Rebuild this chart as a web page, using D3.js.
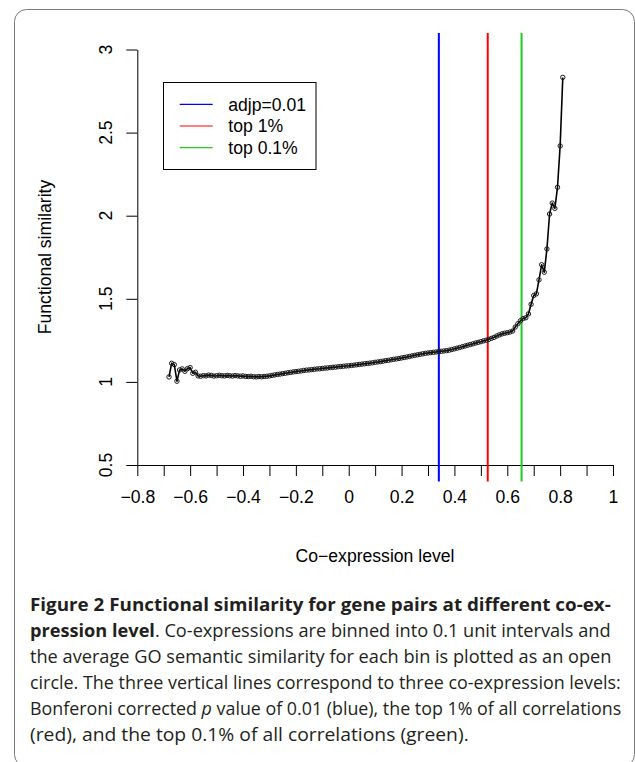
<!DOCTYPE html>
<html>
<head>
<meta charset="utf-8">
<script src="https://cdn.jsdelivr.net/npm/d3@7"></script>
<style>
  body { margin: 0; background: #fff; }
  svg { display: block; }
</style>
</head>
<body>
<svg id="chart" width="635" height="762"></svg>
<script>
// co-expression level of each bin
var coExpr = [
  -0.68, -0.67, -0.66, -0.65, -0.64, -0.63, -0.62, -0.61, -0.60, -0.59,
  -0.58, -0.57, -0.56, -0.55, -0.54, -0.53, -0.52, -0.51, -0.50, -0.49,
  -0.48, -0.47, -0.46, -0.45, -0.44, -0.43, -0.42, -0.41, -0.40, -0.39,
  -0.38, -0.37, -0.36, -0.35, -0.34, -0.33, -0.32, -0.31, -0.30, -0.29,
  -0.28, -0.27, -0.26, -0.25, -0.24, -0.23, -0.22, -0.21, -0.20, -0.19,
  -0.18, -0.17, -0.16, -0.15, -0.14, -0.13, -0.12, -0.11, -0.10, -0.09,
  -0.08, -0.07, -0.06, -0.05, -0.04, -0.03, -0.02, -0.01, 0.00, 0.01,
  0.02, 0.03, 0.04, 0.05, 0.06, 0.07, 0.08, 0.09, 0.10, 0.11,
  0.12, 0.13, 0.14, 0.15, 0.16, 0.17, 0.18, 0.19, 0.20, 0.21,
  0.22, 0.23, 0.24, 0.25, 0.26, 0.27, 0.28, 0.29, 0.30, 0.31,
  0.32, 0.33, 0.34, 0.35, 0.36, 0.37, 0.38, 0.39, 0.40, 0.41,
  0.42, 0.43, 0.44, 0.45, 0.46, 0.47, 0.48, 0.49, 0.50, 0.51,
  0.52, 0.53, 0.54, 0.55, 0.56, 0.57, 0.58, 0.59, 0.60, 0.61,
  0.62, 0.63, 0.64, 0.65, 0.66, 0.67, 0.68, 0.69, 0.70, 0.71,
  0.72, 0.73, 0.74, 0.75, 0.76, 0.77, 0.78, 0.79, 0.80, 0.81
];

// average GO semantic similarity of each bin
var similarity = [
  1.030, 1.112, 1.104, 1.004, 1.072, 1.078, 1.064, 1.080, 1.086, 1.052,
  1.058, 1.036, 1.034, 1.038, 1.036, 1.041, 1.039, 1.035, 1.037, 1.040,
  1.037, 1.036, 1.039, 1.037, 1.035, 1.038, 1.036, 1.034, 1.036, 1.033,
  1.032, 1.034, 1.031, 1.030, 1.032, 1.031, 1.033, 1.034, 1.036, 1.039,
  1.042, 1.045, 1.047, 1.050, 1.052, 1.055, 1.057, 1.060, 1.062, 1.064,
  1.066, 1.069, 1.071, 1.072, 1.074, 1.076, 1.078, 1.079, 1.081, 1.083,
  1.084, 1.086, 1.088, 1.089, 1.091, 1.093, 1.094, 1.096, 1.097, 1.099,
  1.101, 1.103, 1.105, 1.107, 1.109, 1.111, 1.113, 1.115, 1.118, 1.120,
  1.122, 1.125, 1.128, 1.130, 1.133, 1.136, 1.138, 1.141, 1.144, 1.147,
  1.150, 1.153, 1.157, 1.160, 1.163, 1.166, 1.169, 1.172, 1.174, 1.176,
  1.178, 1.180, 1.182, 1.184, 1.186, 1.188, 1.191, 1.195, 1.199, 1.203,
  1.207, 1.212, 1.216, 1.220, 1.225, 1.229, 1.234, 1.238, 1.242, 1.247,
  1.251, 1.256, 1.262, 1.268, 1.276, 1.283, 1.289, 1.293, 1.296, 1.300,
  1.306, 1.330, 1.350, 1.368, 1.381, 1.386, 1.409, 1.467, 1.520, 1.530,
  1.614, 1.705, 1.660, 1.800, 2.010, 2.076, 2.044, 2.171, 2.420, 2.832
];

// vertical cut-off lines
var cutLabels = ["adjp=0.01", "top 1%", "top 0.1%"];
var cutValues = [0.341, 0.526, 0.654];
var cutColors = ["#0000ff", "#ff0000", "#1fcc1f"];

var xTicks = [-0.8, -0.7, -0.6, -0.5, -0.4, -0.3, -0.2, -0.1, 0, 0.1, 0.2, 0.3, 0.4, 0.5, 0.6, 0.7, 0.8, 0.9, 1];
var xTickLabels = [-0.8, -0.6, -0.4, -0.2, 0, 0.2, 0.4, 0.6, 0.8, 1];
var yTicks = [0.5, 1, 1.5, 2, 2.5, 3];

var fontR = "'Liberation Sans', Arial, Helvetica, sans-serif";
var fontCap = "'Open Sans', 'Noto Sans', sans-serif";
var fmt = d3.format("~g");

var svg = d3.select("#chart");

// rounded figure frame, bottom runs off the picture
svg.append("rect")
  .attr("x", 14.5).attr("y", 9.5)
  .attr("width", 620).attr("height", 757)
  .attr("rx", 12).attr("ry", 12)
  .attr("fill", "none")
  .attr("stroke", "#7a7a7a")
  .attr("stroke-width", 1);

var x = d3.scaleLinear().domain([-0.8, 1]).range([137.3, 613]);
var y = d3.scaleLinear().domain([0.5, 3]).range([465, 49.5]);

// x axis
var xAxis = d3.axisBottom(x)
  .tickValues(xTicks)
  .tickSize(11)
  .tickSizeOuter(0)
  .tickPadding(15)
  .tickFormat(function (d) {
    return xTickLabels.indexOf(d) >= 0 ? fmt(d) : "";
  });

svg.append("g")
  .attr("transform", "translate(0," + y(0.5) + ")")
  .call(xAxis)
  .attr("font-size", 17.6)
  .attr("font-family", fontR);

// y axis, labels drawn rotated like R does
var yAxis = d3.axisLeft(y)
  .tickValues(yTicks)
  .tickSize(11)
  .tickSizeOuter(0)
  .tickFormat("");

svg.append("g")
  .attr("transform", "translate(" + x(-0.8) + ",0)")
  .call(yAxis);

svg.selectAll("text.ylab")
  .data(yTicks)
  .join("text")
  .attr("class", "ylab")
  .attr("transform", function (d) { return "translate(111.5," + y(d) + ") rotate(-90)"; })
  .attr("text-anchor", "middle")
  .attr("font-family", fontR)
  .attr("font-size", 17.6)
  .text(function (d) { return fmt(d); });

// axis titles
svg.append("text")
  .attr("x", 375).attr("y", 562)
  .attr("text-anchor", "middle")
  .attr("font-family", fontR)
  .attr("font-size", 17.6)
  .text("Co\u2212expression level");

svg.append("text")
  .attr("transform", "translate(51,257) rotate(-90)")
  .attr("text-anchor", "middle")
  .attr("font-family", fontR)
  .attr("font-size", 17.6)
  .text("Functional similarity");

// vertical lines over the whole plot region
svg.selectAll("line.cut")
  .data(cutValues)
  .join("line")
  .attr("class", "cut")
  .attr("x1", function (d) { return x(d); })
  .attr("x2", function (d) { return x(d); })
  .attr("y1", y(3.1))
  .attr("y2", y(0.4))
  .attr("stroke", function (d, i) { return cutColors[i]; })
  .attr("stroke-width", 2);

// curve with open circles
var points = coExpr.map(function (c, i) { return { x: c, y: similarity[i] }; });

var line = d3.line()
  .x(function (d) { return x(d.x); })
  .y(function (d) { return y(d.y); });

svg.append("path")
  .datum(points)
  .attr("d", line)
  .attr("fill", "none")
  .attr("stroke", "#000")
  .attr("stroke-width", 1.6)
  .attr("stroke-linejoin", "round");

svg.selectAll("circle.pt")
  .data(points)
  .join("circle")
  .attr("class", "pt")
  .attr("cx", function (d) { return x(d.x); })
  .attr("cy", function (d) { return y(d.y); })
  .attr("r", 2.2)
  .attr("fill", "none")
  .attr("stroke", "#1a1a1a")
  .attr("stroke-width", 1);

// legend
var legend = svg.append("g");
legend.append("rect")
  .attr("x", 163.5).attr("y", 82.5)
  .attr("width", 152.5).attr("height", 87)
  .attr("fill", "#fff")
  .attr("stroke", "#000")
  .attr("stroke-width", 1);

cutLabels.forEach(function (lab, i) {
  var ly = 104.3 + i * 21.7;
  legend.append("line")
    .attr("x1", 179.7).attr("x2", 212.7)
    .attr("y1", ly).attr("y2", ly)
    .attr("stroke", cutColors[i])
    .attr("stroke-width", 1.2);
  legend.append("text")
    .attr("x", 228.3).attr("y", ly + 6.3)
    .attr("font-family", fontR)
    .attr("font-size", 17.6)
    .text(lab);
});

// caption, each line squeezed to the width of the original
function captionLine(parts, baseline, right) {
  var t = svg.append("text")
    .attr("font-family", fontCap)
    .attr("font-size", 18)
    .attr("fill", "#231f20");
  parts.forEach(function (p) {
    t.append("tspan")
      .attr("font-weight", p.b ? 700 : 400)
      .attr("font-style", p.i ? "italic" : "normal")
      .text(p.t);
  });
  var w = t.node().getComputedTextLength();
  t.attr("transform", "translate(30," + baseline + ") scale(" + ((right - 30) / w) + ",1)");
}

captionLine([{ t: "Figure 2 Functional similarity for gene pairs at different co-ex-", b: true }], 611, 611);
captionLine([{ t: "pression level", b: true }, { t: ". Co-expressions are binned into 0.1 unit intervals and" }], 637, 611);
captionLine([{ t: "the average GO semantic similarity for each bin is plotted as an open" }], 663, 612);
captionLine([{ t: "circle. The three vertical lines correspond to three co-expression levels:" }], 689, 621);
captionLine([{ t: "Bonferoni corrected " }, { t: "p", i: true }, { t: " value of 0.01 (blue), the top 1% of all correlations" }], 715, 622);
captionLine([{ t: "(red), and the top 0.1% of all correlations (green)." }], 741, 469);
</script>
</body>
</html>
